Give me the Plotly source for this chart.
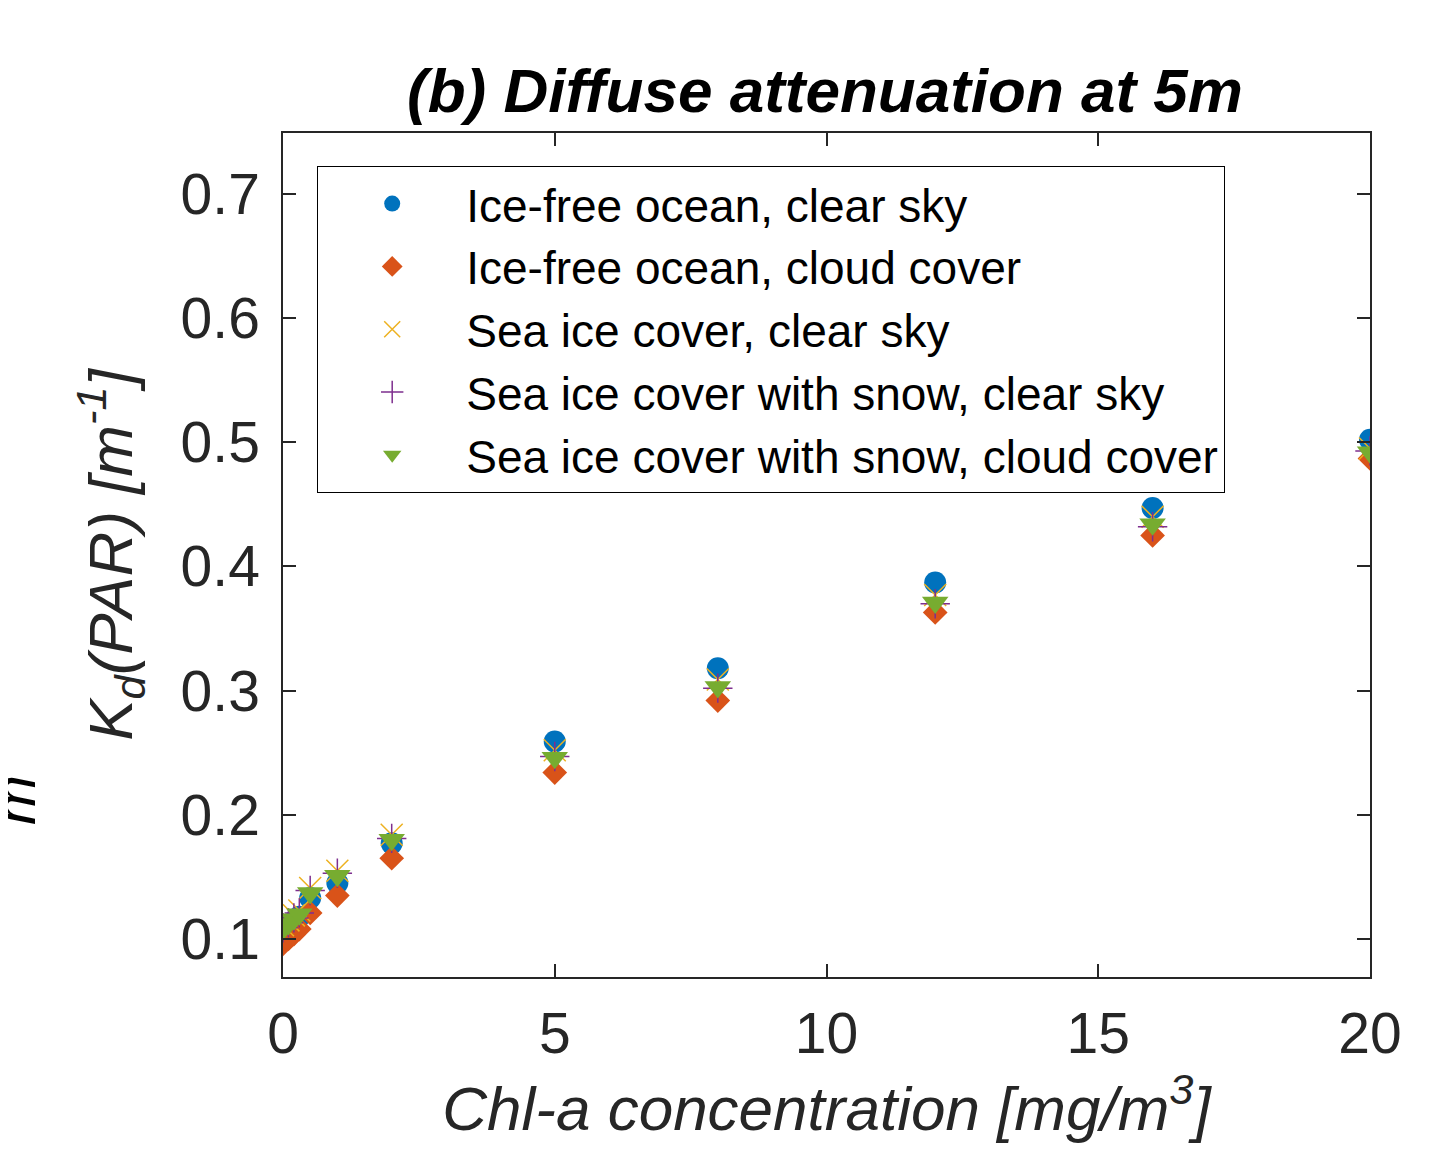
import plotly.graph_objects as go

# ---- data ----
chl = [0, 0.1, 0.2, 0.3, 0.5, 1, 2, 5, 8, 12, 16, 20]
kd_icefree_clear = [0.106, 0.110, 0.114, 0.118, 0.133, 0.145, 0.177, 0.259, 0.318, 0.387, 0.447, 0.502]
kd_icefree_cloud = [0.096, 0.100, 0.104, 0.108, 0.121, 0.135, 0.165, 0.234, 0.292, 0.363, 0.425, 0.487]
kd_seaice_clear = [0.111, 0.115, 0.119, 0.123, 0.141, 0.155, 0.184, 0.252, 0.309, 0.377, 0.440, 0.495]
kd_snow_clear = [0.109, 0.113, 0.117, 0.121, 0.139, 0.153, 0.181, 0.247, 0.302, 0.370, 0.432, 0.493]
kd_snow_cloud = [0.108, 0.112, 0.116, 0.120, 0.137, 0.151, 0.180, 0.246, 0.303, 0.371, 0.434, 0.492]

names = [
    "Ice-free ocean, clear sky",
    "Ice-free ocean, cloud cover",
    "Sea ice cover, clear sky",
    "Sea ice cover with snow, clear sky",
    "Sea ice cover with snow, cloud cover",
]
x_ticks = [0, 5, 10, 15, 20]
y_ticks = [0.1, 0.2, 0.3, 0.4, 0.5, 0.6, 0.7]

series = [kd_icefree_clear, kd_icefree_cloud, kd_seaice_clear, kd_snow_clear, kd_snow_cloud]
colors = ["#0072BD", "#D95319", "#EDB120", "#7E2F8E", "#77AC30"]
symbols = ["circle", "diamond", "x-thin-open", "cross-thin-open", "triangle-down"]
sizes = [22, 19, 22, 21, 23]

FONT = "Liberation Sans, Arial, Helvetica, sans-serif"
AX = "#262626"

# page offset (body margin) compensation
OFF = 8
W, H = 1420, 1154
L, T = 283 - OFF, 133 - OFF
R = W - (1370 - OFF)
B = H - (977 - OFF)
PW, PH = W - L - R, H - T - B


def px(xp):
    return (xp - OFF - L) / PW


def py(yp):
    return (H - B - (yp - OFF)) / PH


fig = go.Figure()
for name, ys, c, s, sz in zip(names, series, colors, symbols, sizes):
    marker = dict(symbol=s, size=sz, color=c)
    if "open" in s:
        marker["line"] = dict(color=c, width=1.5)
    else:
        marker["line"] = dict(width=0)
    fig.add_trace(go.Scatter(x=chl, y=ys, mode="markers", name=name, marker=marker))

axis_common = dict(
    showgrid=False, zeroline=False, ticks="inside", ticklen=13, tickwidth=1.5,
    tickcolor=AX, showline=True, linecolor=AX, linewidth=1.5, mirror="ticks",
    tickfont=dict(family=FONT, size=57, color=AX),
)

fig.update_layout(
    width=W, height=H,
    margin=dict(l=L, r=R, t=T, b=B, pad=0),
    paper_bgcolor="white", plot_bgcolor="white",
    font=dict(family=FONT, color="black"),
    title=dict(
        text="<b><i>(b) Diffuse attenuation at 5m</i></b>",
        x=(825 - OFF) / W, xanchor="center", y=1 - (90 - OFF) / H, yanchor="middle",
        font=dict(family=FONT, size=62, color="black"),
    ),
    xaxis=dict(
        range=[0, 20], tickvals=x_ticks, ticklabelstandoff=6,
        title=dict(text="<i>Chl-a concentration [mg/m<sup>3</sup>]</i>",
                   font=dict(family=FONT, size=62, color=AX), standoff=18),
        **axis_common,
    ),
    yaxis=dict(
        range=[0.0694, 0.749], tickvals=y_ticks, tickformat=".1f", ticklabelstandoff=10,
        title=dict(text="<i>K<sub>d</sub>(PAR) [m<sup>-1</sup>]</i>",
                   font=dict(family=FONT, size=62, color=AX), standoff=28),
        **axis_common,
    ),
    legend=dict(
        x=px(317), y=py(166), xanchor="left", yanchor="top",
        bordercolor="black", borderwidth=1.2, bgcolor="white",
        font=dict(family=FONT, size=46, color="black"),
        itemwidth=138, tracegroupgap=0,
    ),
    showlegend=True,
)

fig.add_annotation(
    text="<i>m</i>", xref="paper", yref="paper",
    x=px(14), y=py(800), xanchor="center", yanchor="middle",
    textangle=-90, showarrow=False, font=dict(family=FONT, size=60, color="black"),
)

fig.write_html("out.html")
